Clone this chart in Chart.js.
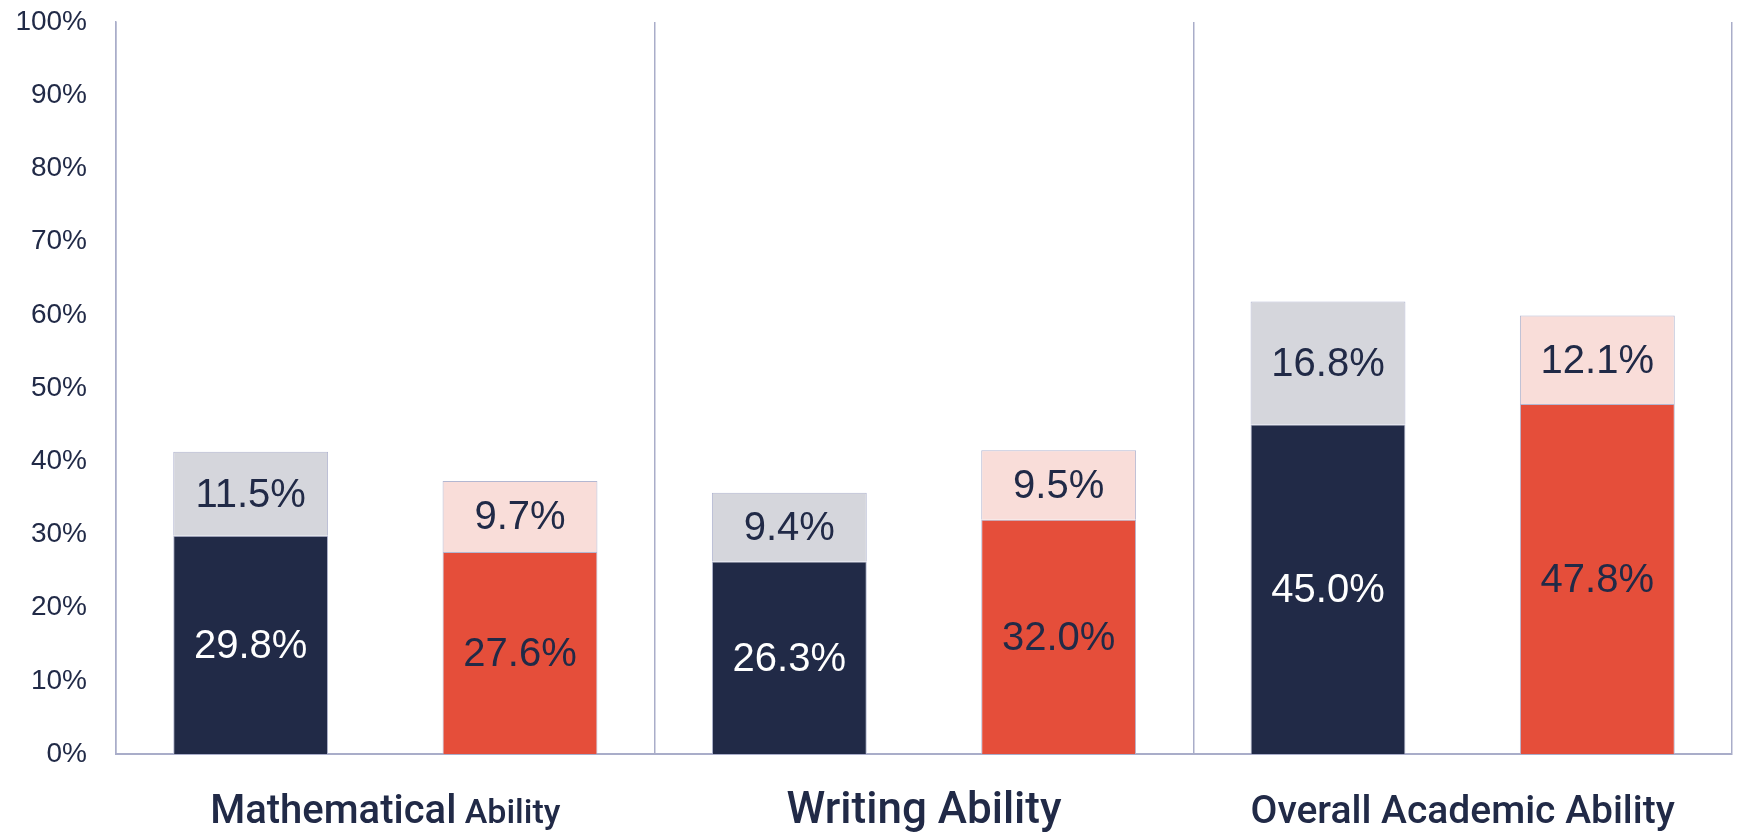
<!DOCTYPE html>
<html>
<head>
<meta charset="utf-8">
<script src="https://cdn.jsdelivr.net/npm/chart.js@4/dist/chart.umd.min.js"></script>
<style>
  html, body { margin: 0; padding: 0; background: #fff; }
  #wrap { width: 1739px; height: 832px; }
</style>
</head>
<body>
<div id="wrap"><canvas id="myChart" width="1739" height="832"></canvas></div>
<script>
// categories and series (percent)
const categories = ['Mathematical Ability', 'Writing Ability', 'Overall Academic Ability'];
const navyBase = [29.8, 26.3, 45.0];
const navyTop = [11.5, 9.4, 16.8];
const redBase = [27.6, 32.0, 47.8];
const redTop = [9.7, 9.5, 12.1];
const yTicks = [0, 10, 20, 30, 40, 50, 60, 70, 80, 90, 100];

// category label pieces: [word, font size]
const labelParts = [
    [['Mathematical', 40], ['Ability', 34]],
    [['Writing Ability', 44]],
    [['Overall Academic Ability', 39]]
];

const NAVY = '#212A47';
const FONT = "'Liberation Sans', Arial, sans-serif";
const CAT_FONT = "Roboto, 'Liberation Sans', Arial, sans-serif";
const EDGE = '#B3B7D1';

const barLabels = {
    id: 'barLabels',
    afterDatasetsDraw(chart) {
        const ctx = chart.ctx;
        ctx.save();
        ctx.font = '40px ' + FONT;
        ctx.textAlign = 'center';
        ctx.textBaseline = 'middle';
        chart.data.datasets.forEach((ds, di) => {
            const meta = chart.getDatasetMeta(di);
            meta.data.forEach((bar, i) => {
                ctx.fillStyle = ds.labelColor;
                ctx.fillText(ds.data[i].toFixed(1) + '%', bar.x, (bar.y + bar.base) / 2 + 2);
            });
        });
        ctx.restore();
    }
};

const catLabels = {
    id: 'catLabels',
    afterDraw(chart) {
        const ctx = chart.ctx;
        const xs = chart.scales.x;
        const base = chart.chartArea.bottom + 69;
        ctx.save();
        ctx.fillStyle = NAVY;
        ctx.textBaseline = 'alphabetic';
        ctx.textAlign = 'left';
        labelParts.forEach((parts, i) => {
            let total = 0;
            const widths = parts.map((p, k) => {
                ctx.font = '500 ' + p[1] + 'px ' + CAT_FONT;
                let w = ctx.measureText(p[0]).width;
                if (k > 0) w += ctx.measureText(' ').width;
                total += w;
                return w;
            });
            let x = xs.getPixelForValue(i) - total / 2;
            parts.forEach((p, k) => {
                ctx.font = '500 ' + p[1] + 'px ' + CAT_FONT;
                const txt = (k > 0 ? ' ' : '') + p[0];
                ctx.fillText(txt, x, base);
                x += widths[k];
            });
        });
        ctx.restore();
    }
};

const data = {
    labels: categories,
    datasets: [
        { data: navyBase, stack: 'a', backgroundColor: NAVY, borderColor: EDGE, labelColor: '#ffffff' },
        { data: navyTop, stack: 'a', backgroundColor: '#D5D6DC', borderColor: EDGE, labelColor: NAVY },
        { data: redBase, stack: 'b', backgroundColor: '#E54E3A', borderColor: EDGE, labelColor: NAVY },
        { data: redTop, stack: 'b', backgroundColor: '#F9DDD9', borderColor: EDGE, labelColor: NAVY }
    ]
};
data.datasets.forEach(d => {
    d.borderWidth = 1;
    d.categoryPercentage = 1.0;
    d.barPercentage = 0.575;
});

const config = {
    type: 'bar',
    data: data,
    options: {
        responsive: false,
        animation: false,
        devicePixelRatio: 1,
        layout: { padding: { top: 0, right: 7, bottom: 78, left: 0 } },
        plugins: { legend: { display: false }, tooltip: { enabled: false } },
        scales: {
            x: {
                stacked: true,
                ticks: { display: false },
                grid: { display: true, color: '#A9ADC9', lineWidth: 1.5, drawTicks: false, offset: true },
                border: { display: true, color: '#A9ADC9', width: 2 }
            },
            y: {
                stacked: true,
                min: 0,
                max: 100,
                afterFit: s => { s.width = 116; s.paddingTop = 22; s.paddingBottom = 0; },
                afterBuildTicks: s => { s.ticks = yTicks.map(v => ({ value: v })); },
                ticks: {
                    padding: 29,
                    color: NAVY,
                    font: { family: FONT, size: 28 },
                    callback: v => v + '%'
                },
                grid: { display: false, drawTicks: false },
                border: { display: true, color: '#A9ADC9', width: 1.5 }
            }
        }
    },
    plugins: [barLabels, catLabels]
};

const myChart = new Chart(document.getElementById('myChart'), config);
</script>
</body>
</html>
